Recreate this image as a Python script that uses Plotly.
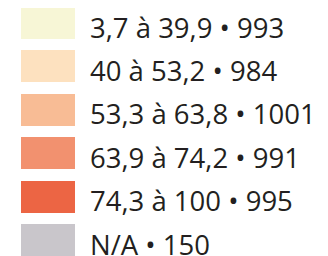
import plotly.graph_objects as go

labels = ["3,7 à 39,9 • 993", "40 à 53,2 • 984", "53,3 à 63,8 • 1001",
          "63,9 à 74,2 • 991", "74,3 à 100 • 995", "N/A • 150"]
colors = ["#f7f6d6", "#fde1bf", "#f8bc95", "#f2916f", "#ec6544", "#c9c6cb"]
positions = list(range(len(labels)))
ones = [1] * len(labels)

fig = go.Figure(go.Bar(
    x=ones, y=positions, orientation="h", width=0.74,
    marker=dict(color=colors, line=dict(width=0)),
    hoverinfo="skip", showlegend=False,
))
for p, lab in zip(positions, labels):
    fig.add_annotation(x=1, y=p, xref="x", yref="y", text=lab, showarrow=False,
                       xanchor="left", yanchor="middle", xshift=13, yshift=-4,
                       font=dict(family="Open Sans", size=27.5, color="#231f20"))
fig.update_layout(
    width=320, height=248,
    margin=dict(l=13, r=253, t=0, b=0),
    paper_bgcolor="white", plot_bgcolor="white",
    bargap=0,
)
fig.update_xaxes(range=[0, 1], visible=False, fixedrange=True)
fig.update_yaxes(range=[5.368, -0.346], visible=False, showgrid=False,
                 zeroline=False, fixedrange=True)
fig.write_html("out.html")
